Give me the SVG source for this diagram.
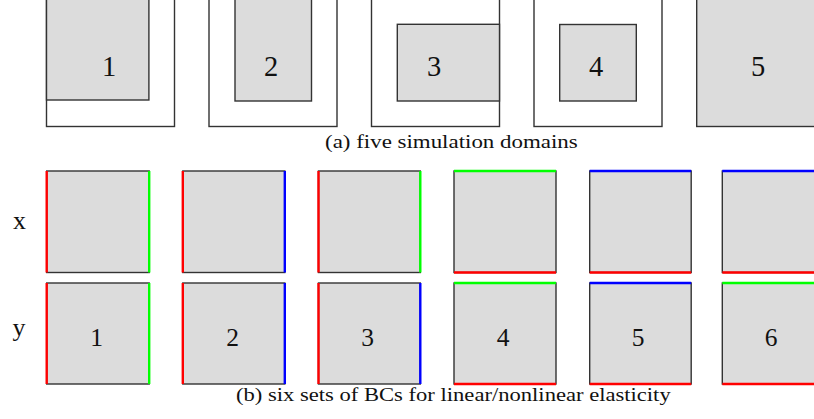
<svg xmlns="http://www.w3.org/2000/svg" width="814" height="419" viewBox="0 0 814 419">
<style>
.o{fill:#ffffff;stroke:#333;stroke-width:1.4}
.g{fill:#dcdcdc;stroke:#333;stroke-width:1.4}
.r{stroke:#ff0000;stroke-width:2.4}
.gr{stroke:#00ff00;stroke-width:2.4}
.b{stroke:#0000ff;stroke-width:2.4}
text{font-family:"Liberation Serif","DejaVu Serif",serif;fill:#111}
.n1{font-size:28.5px;text-anchor:middle}
.n2{font-size:25.5px;text-anchor:middle}
.cap{font-size:19.5px}
</style>
<rect width="814" height="419" fill="#ffffff"/>
<g id="domain1"><rect class="o" x="46.5" y="-1.5" width="128" height="128"/><rect class="g" x="46.5" y="-1.5" width="102.4" height="101.5"/><text class="n1" x="109" y="76">1</text></g>
<g id="domain2"><rect class="o" x="209" y="-1.5" width="128" height="128"/><rect class="g" x="235" y="-1.5" width="76.5" height="102.5"/><text class="n1" x="271" y="76">2</text></g>
<g id="domain3"><rect class="o" x="371.5" y="-1.5" width="128" height="128"/><rect class="g" x="397.3" y="24.3" width="102.2" height="76.7"/><text class="n1" x="434" y="76">3</text></g>
<g id="domain4"><rect class="o" x="534" y="-1.5" width="128" height="128"/><rect class="g" x="559.7" y="24.5" width="76.6" height="76.5"/><text class="n1" x="596" y="76">4</text></g>
<g id="domain5"><rect class="g" x="696.7" y="-1.5" width="128" height="128"/><text class="n1" x="758" y="76">5</text></g>
<text id="capA" class="cap" x="325" y="148.3" textLength="252.7" lengthAdjust="spacingAndGlyphs">(a) five simulation domains</text>
<text id="labX" x="19.5" y="229" font-size="26" text-anchor="middle">x</text>
<text id="labY" x="19" y="336" font-size="26" text-anchor="middle">y</text>
<g id="bc1">
<rect class="g" x="46.7" y="171" width="102.5" height="101.5"/><line class="r" x1="46.7" y1="171" x2="46.7" y2="272.5"/><line class="gr" x1="149.2" y1="171" x2="149.2" y2="272.5"/>
<rect class="g" x="46.7" y="283" width="102.5" height="101"/><line class="r" x1="46.7" y1="283" x2="46.7" y2="384"/><line class="gr" x1="149.2" y1="283" x2="149.2" y2="384"/>
<text class="n2" x="96.5" y="345.5">1</text></g>
<g id="bc2">
<rect class="g" x="182.8" y="171" width="102" height="101.5"/><line class="r" x1="182.8" y1="171" x2="182.8" y2="272.5"/><line class="b" x1="284.8" y1="171" x2="284.8" y2="272.5"/>
<rect class="g" x="182.8" y="283" width="102" height="101"/><line class="r" x1="182.8" y1="283" x2="182.8" y2="384"/><line class="b" x1="284.8" y1="283" x2="284.8" y2="384"/>
<text class="n2" x="232.5" y="345.5">2</text></g>
<g id="bc3">
<rect class="g" x="318.5" y="171" width="101.8" height="101.5"/><line class="r" x1="318.5" y1="171" x2="318.5" y2="272.5"/><line class="gr" x1="420.3" y1="171" x2="420.3" y2="272.5"/>
<rect class="g" x="318.5" y="283" width="101.8" height="101"/><line class="r" x1="318.5" y1="283" x2="318.5" y2="384"/><line class="b" x1="420.3" y1="283" x2="420.3" y2="384"/>
<text class="n2" x="367.5" y="345.5">3</text></g>
<g id="bc4">
<rect class="g" x="454" y="171" width="102" height="101.5"/><line class="gr" x1="454" y1="171" x2="556" y2="171"/><line class="r" x1="454" y1="272.5" x2="556" y2="272.5"/>
<rect class="g" x="454" y="283" width="102" height="101"/><line class="gr" x1="454" y1="283" x2="556" y2="283"/><line class="r" x1="454" y1="384" x2="556" y2="384"/>
<text class="n2" x="503" y="345.5">4</text></g>
<g id="bc5">
<rect class="g" x="589.7" y="171" width="101.5" height="101.5"/><line class="b" x1="589.7" y1="171" x2="691.2" y2="171"/><line class="r" x1="589.7" y1="272.5" x2="691.2" y2="272.5"/>
<rect class="g" x="589.7" y="283" width="101.5" height="101"/><line class="b" x1="589.7" y1="283" x2="691.2" y2="283"/><line class="r" x1="589.7" y1="384" x2="691.2" y2="384"/>
<text class="n2" x="638" y="345.5">5</text></g>
<g id="bc6">
<rect class="g" x="722.3" y="171" width="102" height="101.5"/><line class="b" x1="722.3" y1="171" x2="824.3" y2="171"/><line class="r" x1="722.3" y1="272.5" x2="824.3" y2="272.5"/>
<rect class="g" x="722.3" y="283" width="102" height="101"/><line class="gr" x1="722.3" y1="283" x2="824.3" y2="283"/><line class="r" x1="722.3" y1="384" x2="824.3" y2="384"/>
<text class="n2" x="771" y="345.5">6</text></g>
<text id="capB" class="cap" x="236" y="401" textLength="434.7" lengthAdjust="spacingAndGlyphs">(b) six sets of BCs for linear/nonlinear elasticity</text>
</svg>
